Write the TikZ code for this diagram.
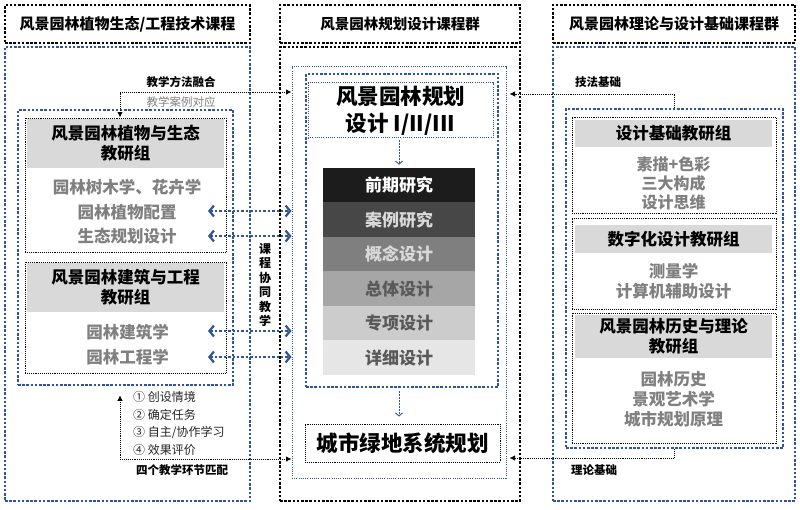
\documentclass[tikz,border=0pt]{standalone}
\usepackage{fontspec}
\setmainfont{Noto Sans CJK SC}
\usetikzlibrary{arrows.meta, positioning}
\definecolor{lnblue}{HTML}{2F5597}
\definecolor{hdgray}{HTML}{D9D9D9}
\definecolor{itgray}{HTML}{808080}
\definecolor{dkgray}{HTML}{595959}
\definecolor{st1}{HTML}{1C1C1C}
\definecolor{st2}{HTML}{474747}
\definecolor{st3}{HTML}{7F7F7F}
\definecolor{st4}{HTML}{A6A6A6}
\definecolor{st5}{HTML}{CCCCCC}
\definecolor{st6}{HTML}{E6E6E6}
\tikzset{
  ttlbox/.style={rectangle, draw=black, line width=2.5pt, dash pattern=on 2.5pt off 1.7pt,
                 font=\fontsize{15}{18}\selectfont\bfseries, minimum height=38pt, inner sep=0pt},
  bluebox/.style={rectangle, draw=lnblue, line width=2.5pt, dash pattern=on 2.5pt off 1.7pt, inner sep=0pt},
  blackbox/.style={rectangle, draw=black, line width=2.5pt, dash pattern=on 2.5pt off 1.7pt, inner sep=0pt},
  thinblue/.style={rectangle, draw=lnblue, line width=1pt, dash pattern=on 1pt off 1.2pt, inner sep=0pt},
  grpbox/.style={rectangle, draw=black, line width=0.9pt, dash pattern=on 0.9pt off 1pt, inner sep=0pt},
  grphead/.style={rectangle, fill=hdgray, align=center, font=\fontsize{16.5}{20}\selectfont\bfseries, inner sep=0pt},
  item/.style={text=itgray, font=\fontsize{16.5}{20}\selectfont\bfseries, align=center, inner sep=0pt},
  stepbox/.style={rectangle, fill=#1, minimum width=152pt, minimum height=34.6pt,
                  font=\fontsize{17}{20}\selectfont\bfseries, inner sep=0pt},
  bigtxt/.style={font=\fontsize{21.5}{27}\selectfont\bfseries, align=center, inner sep=0pt},
  link/.style={draw=black, line width=0.9pt, dash pattern=on 0.9pt off 1pt, >={Latex[length=5.5pt, width=5.5pt]}},
  blink/.style={draw=lnblue, line width=2.4pt, dash pattern=on 2.4pt off 2pt,
                {Straight Barb[length=4.5pt, width=11pt, line width=2.2pt]}-{Straight Barb[length=4.5pt, width=11pt, line width=2.2pt]}},
  downarr/.style={draw=lnblue, line width=0.8pt, dash pattern=on 2pt off 1pt,
                  -{Straight Barb[length=3pt, width=7pt, line width=0.9pt]}},
  lbl/.style={font=\fontsize{11.5}{14}\selectfont\bfseries, inner sep=0pt},
}

\begin{document}
\begin{tikzpicture}[x=1pt, y=-1pt]
  \useasboundingbox (0,0) rectangle (800,510);

  % --- titoli delle tre colonne
  \node[ttlbox, minimum width=245pt] (tL) at (127.5,24) {风景园林植物生态/工程技术课程};
  \node[ttlbox, minimum width=240pt, font=\fontsize{14.5}{18}\selectfont\bfseries] (tM) at (400,24) {风景园林规划设计课程群};
  \node[ttlbox, minimum width=242pt] (tR) at (674,24) {风景园林理论与设计基础课程群};

  % --- riquadri esterni
  \node[bluebox, minimum width=245pt, minimum height=454pt] (oL) at (127.5,274) {};
  \node[blackbox, minimum width=240pt, minimum height=454pt] (oM) at (400,274) {};
  \node[bluebox, minimum width=242pt, minimum height=454pt] (oR) at (674,274) {};

  % --- colonna SINISTRA
  \node[bluebox, minimum width=215pt, minimum height=275pt] (lIn) at (125.5,247.5) {};
  \node[grpbox, minimum width=201pt, minimum height=134pt] (g1) at (125.5,185) {};
  \node[grphead, minimum width=197pt, minimum height=49pt] (g1h) at (125.5,143.5) {风景园林植物与生态\\教研组};
  \node[item] (i1) at (127,187) {园林树木学、花卉学};
  \node[item] (i2) at (127,212) {园林植物配置};
  \node[item] (i3) at (127,236) {生态规划设计};
  \node[grpbox, minimum width=201pt, minimum height=111pt] (g2) at (125.5,317.5) {};
  \node[grphead, minimum width=197pt, minimum height=49pt] (g2h) at (125.5,287.5) {风景园林建筑与工程\\教研组};
  \node[item] (i4) at (127.5,332) {园林建筑学};
  \node[item] (i5) at (127.5,357) {园林工程学};

  \node[lbl] (mth) at (181,82) {教学方法融合};
  \node[lbl, font=\fontsize{11.5}{14}\selectfont, text=itgray] (cas) at (181,102) {教学案例对应};
  \node[lbl, font=\fontsize{12}{17.5}\selectfont, text=black!85, align=left, anchor=west] (four) at (133,423.5)
    {① 创设情境\\② 确定任务\\③ 自主/协作学习\\④ 效果评价};
  \node[lbl] (match) at (182,470) {四个教学环节匹配};
  \node[lbl, font=\fontsize{12}{14.5}\selectfont\bfseries, align=center] (vt) at (265,285) {课\\程\\协\\同\\教\\学};

  % --- colonna CENTRALE
  \node[thinblue, minimum width=214pt, minimum height=411pt] (mThin) at (399,272.5) {};
  \node[bluebox, minimum width=192pt, minimum height=313pt] (mIn) at (402,230.5) {};
  \node[thinblue, bigtxt, minimum width=185pt, minimum height=55pt] (mTop) at (400.5,110.5) {风景园林规划\\设计 I/II/III};
  \foreach \t/\fc/\tc [count=\i] in {前期研究/st1/white, 案例研究/st2/hdgray, 概念设计/st3/hdgray,
                                     总体设计/st4/dkgray, 专项设计/st5/dkgray, 详细设计/st6/dkgray}{
    \node[stepbox=\fc, text=\tc] (s\i) at (399,{150.75+34.5*\i}) {\t};
  }
  \node[grpbox, bigtxt, minimum width=195pt, minimum height=38pt] (city) at (402.5,443) {城市绿地系统规划};
  \draw[downarr, shorten <=2pt, shorten >=3pt] (mTop.south -| s1) -- (s1.north);
  \draw[downarr, shorten <=3pt, shorten >=7pt] (mIn.south -| s1) -- (city.north -| s1);

  % --- colonna DESTRA
  \node[bluebox, minimum width=217pt, minimum height=339pt] (rIn) at (674.5,278.5) {};
  \node[grpbox, minimum width=204pt, minimum height=96pt] (gA) at (674,165) {};
  \node[grphead, minimum width=197pt, minimum height=27pt] (gAh) at (673.5,133.5) {设计基础教研组};
  \node[item, font=\fontsize{16}{19}\selectfont\bfseries] (iA) at (673.5,183) {素描+色彩\\三大构成\\设计思维};
  \node[grpbox, minimum width=204pt, minimum height=91pt] (gB) at (674,263.5) {};
  \node[grphead, minimum width=197pt, minimum height=28pt] (gBh) at (673.5,239) {数字化设计教研组};
  \node[item] (iB) at (673.5,281) {测量学\\计算机辅助设计};
  \node[grpbox, minimum width=204pt, minimum height=130pt] (gC) at (674,378) {};
  \node[grphead, minimum width=197pt, minimum height=43pt] (gCh) at (673.5,336.5) {风景园林历史与理论\\教研组};
  \node[item, font=\fontsize{16.5}{20}\selectfont\bfseries] (iC) at (673.5,399.5) {园林历史\\景观艺术学\\城市规划原理};
  \node[lbl] (tec) at (598,82) {技法基础};
  \node[lbl] (the) at (594,470) {理论基础};

  % --- collegamenti
  \coordinate (kA) at (120,92);
  \coordinate (kB) at (120,459);
  \coordinate (kC) at (674,94);
  \coordinate (kD) at (674,458);
  \draw[link, <->] (g1.north -| kA) |- (mThin.west |- kA);
  \draw[link, <->] ([yshift=-9pt]lIn.south -| kB) |- (mThin.west |- kB);
  \draw[link, ->, shorten >=3pt] (rIn.north) |- (mThin.east |- kC);
  \draw[link, ->, shorten >=3pt] (rIn.south) |- (mThin.east |- kD);

  \coordinate (b1) at (208,211);
  \coordinate (b2) at (208,236);
  \coordinate (b3) at (208,331);
  \coordinate (b4) at (208,357);
  \foreach \n in {b1,b2,b3,b4}{ \draw[blink] (\n) -- (mThin.west |- \n); }
\end{tikzpicture}
\end{document}
